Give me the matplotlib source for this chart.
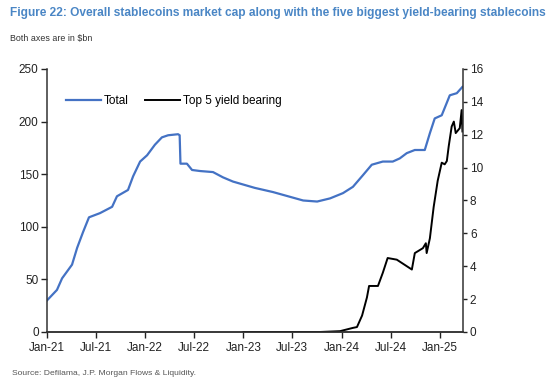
import matplotlib
matplotlib.use("Agg")
import matplotlib.pyplot as plt
import matplotlib.dates as mdates
import numpy as np
import pandas as pd

plt.rcParams.update({
    "font.family": "sans-serif",
    "font.sans-serif": ["Liberation Sans", "DejaVu Sans"],
    "font.size": 8,
})

BLUE = "#4472C4"
TITLE_BLUE = "#4A86C5"

# ---- data, $bn ----
total_dates = pd.to_datetime([
    "2021-01-01", "2021-02-07", "2021-02-26", "2021-04-04", "2021-04-23",
    "2021-05-15", "2021-06-06", "2021-07-17", "2021-08-31", "2021-09-18",
    "2021-10-29", "2021-11-17", "2021-12-13", "2022-01-08", "2022-02-06",
    "2022-03-04", "2022-03-27", "2022-05-03", "2022-05-09", "2022-05-12",
    "2022-06-05", "2022-06-24", "2022-07-24", "2022-09-10", "2022-10-17",
    "2022-11-23", "2023-02-12", "2023-04-21", "2023-08-11", "2023-10-02",
    "2023-11-19", "2024-01-06", "2024-02-12", "2024-03-20", "2024-04-22",
    "2024-06-02", "2024-07-09", "2024-08-04", "2024-08-30", "2024-09-29",
    "2024-11-05", "2024-11-24", "2024-12-12", "2025-01-07", "2025-01-26",
    "2025-02-06", "2025-03-04", "2025-03-25",
])
total_vals = [
    30, 40, 51, 64, 80,
    95, 109, 113, 119, 129,
    135, 148, 162, 168, 178,
    185, 187, 188, 187, 160,
    160, 154, 153, 152, 147,
    143, 137, 133, 125, 124,
    127, 132, 138, 149, 159,
    162, 162, 165, 170, 173,
    173, 189, 203, 206, 218,
    225, 227, 233,
]

top5_dates = pd.to_datetime([
    "2023-01-01", "2023-10-13", "2023-12-26", "2024-02-12", "2024-02-27",
    "2024-03-17", "2024-04-04", "2024-04-12", "2024-05-15", "2024-06-02",
    "2024-06-20", "2024-07-24", "2024-09-18", "2024-09-29", "2024-10-29",
    "2024-11-09", "2024-11-12", "2024-11-24", "2024-12-08", "2024-12-23",
    "2025-01-07", "2025-01-18", "2025-01-26", "2025-02-02", "2025-02-13",
    "2025-02-21", "2025-02-28", "2025-03-15", "2025-03-22", "2025-03-25",
])
top5_vals = [
    0, 0, 0.05, 0.25, 0.3,
    1.0, 2.1, 2.8, 2.8, 3.6,
    4.5, 4.4, 3.8, 4.8, 5.1,
    5.4, 4.8, 5.7, 7.6, 9.2,
    10.3, 10.2, 10.4, 11.3, 12.5,
    12.8, 12.1, 12.4, 13.5, 12.2,
]

fig = plt.figure(figsize=(5.55, 3.77), dpi=100)
ax = fig.add_axes([0.0847, 0.1194, 0.7495, 0.6976])
ax2 = ax.twinx()

l1, = ax.plot(total_dates, total_vals, color=BLUE, lw=1.6, label="Total")
l2, = ax2.plot(top5_dates, top5_vals, color="black", lw=1.4, label="Top 5 yield bearing")

ax.set_ylim(0, 250)
ax.set_yticks(np.arange(0, 251, 50))
ax2.set_ylim(0, 16)
ax2.set_yticks(np.arange(0, 17, 2))
ax.set_xlim(pd.Timestamp("2021-01-01"), pd.Timestamp("2025-03-27"))
ax.xaxis.set_major_locator(mdates.MonthLocator(bymonth=[1, 7]))
ax.xaxis.set_major_formatter(mdates.DateFormatter("%b-%y"))

spine_c = "#333333"
for a in (ax, ax2):
    a.spines["top"].set_visible(False)
    for s in a.spines.values():
        s.set_color(spine_c)
        s.set_linewidth(1.1)
    a.tick_params(colors="#222222", labelsize=8.5, width=1.0, length=4, direction="out")
ax.spines["right"].set_visible(False)
ax2.spines["left"].set_visible(False)
ax.tick_params(axis="y", pad=2)
ax.tick_params(axis="x", pad=3)
ax2.tick_params(axis="y", pad=2, length=3)

ax.legend(handles=[l1, l2], loc="upper left", bbox_to_anchor=(0.035, 0.92),
          ncol=2, frameon=False, fontsize=8.5, handlelength=2.9,
          handletextpad=0.3, columnspacing=1.4, borderaxespad=0)

fig.text(0.018, 0.965, "Figure 22: Overall stablecoins market cap along with the five biggest yield-bearing stablecoins",
         color=TITLE_BLUE, fontsize=8.55, fontweight="bold", va="center")
fig.text(0.018, 0.898, "Both axes are in $bn", color="#333333", fontsize=6.4, va="center")
fig.text(0.022, 0.001, "Source: Defilama, J.P. Morgan Flows & Liquidity.", color="#555555",
         fontsize=6.1, va="bottom")

fig.savefig("out.png", dpi=100)
